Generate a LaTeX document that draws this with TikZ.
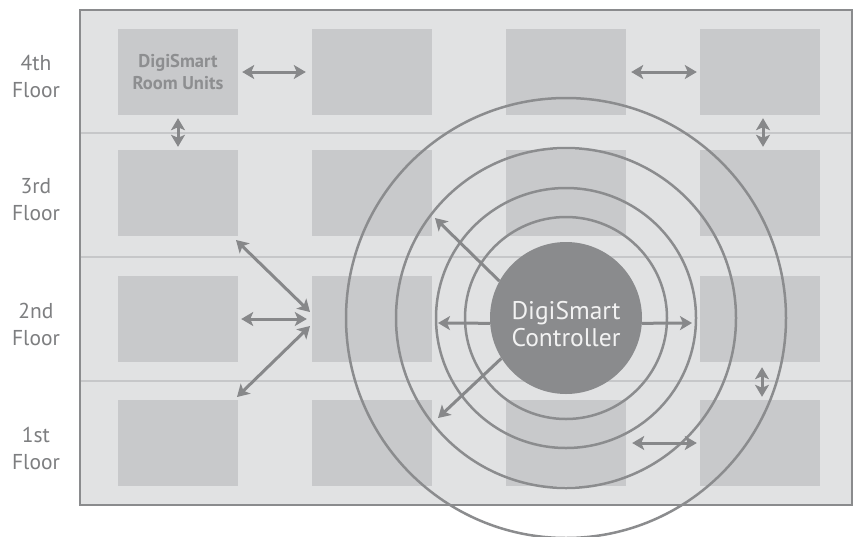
\documentclass[tikz,border=0pt]{standalone}
\usepackage{fontspec}
\setmainfont{PT Sans}
\usetikzlibrary{arrows.meta}
\definecolor{framefill}{HTML}{E1E2E3}
\definecolor{framecol}{HTML}{8A8B8D}
\definecolor{roomfill}{HTML}{C8C9CB}
\definecolor{divcol}{HTML}{C6C7C9}
\definecolor{ringcol}{HTML}{8B8C8E}
\definecolor{arrcol}{HTML}{87888A}
\definecolor{ctrlfill}{HTML}{8A8B8D}
\definecolor{ctrltext}{HTML}{F2F2F2}
\definecolor{lblcol}{HTML}{7D7E80}
\definecolor{unitcol}{HTML}{8D8E90}
\begin{document}
\begin{tikzpicture}[x=1pt,y=-1pt,
  room/.style={fill=roomfill, minimum width=120pt, minimum height=86pt, inner sep=0pt},
  ringline/.style={draw=ringcol, line width=2.5pt},
  divline/.style={draw=divcol, line width=2pt},
  link/.style={draw=arrcol, line width=3pt, {Stealth[length=12pt,width=14pt,inset=3pt]}-{Stealth[length=12pt,width=14pt,inset=3pt]}},
  ray/.style={draw=arrcol, line width=3pt, -{Stealth[length=12pt,width=14pt,inset=3pt]}},
  floorlbl/.style={text=lblcol, font=\fontsize{21.5}{27}\selectfont, align=center},
  ctrlstyle/.style={circle, fill=ctrlfill, minimum size=152pt, inner sep=0pt},
  ctrltxt/.style={text=ctrltext, align=center, font=\fontsize{25.5}{27}\selectfont, yshift=-6pt},
  unitlbl/.style={text=unitcol, align=center, font=\bfseries\fontsize{18.5}{22}\selectfont}]
\clip (0,0) rectangle (856,536);
\fill[white] (0,0) rectangle (856,536);
% building frame
\draw[fill=framefill, draw=framecol, line width=2.5pt] (80,10) rectangle (852,505);
\draw[divline] (81,133) -- (851,133);
\draw[divline] (81,257) -- (851,257);
\draw[divline] (81,381) -- (851,381);
% floor labels
\node[floorlbl] (f4) at (36,76) {4th\\Floor};
\node[floorlbl] (f3) at (36,200) {3rd\\Floor};
\node[floorlbl] (f2) at (36,324) {2nd\\Floor};
\node[floorlbl] (f1) at (36,448) {1st\\Floor};
% rooms
\node[room, unitlbl] (r41) at (178,72) {DigiSmart\\Room Units};
\node[room] (r42) at (372,72) {};
\node[room] (r43) at (566,72) {};
\node[room] (r44) at (760,72) {};
\node[room] (r31) at (178,193) {};
\node[room] (r32) at (372,193) {};
\node[room] (r33) at (566,193) {};
\node[room] (r34) at (760,193) {};
\node[room] (r21) at (178,319) {};
\node[room] (r22) at (372,319) {};
\node[room] (r23) at (566,319) {};
\node[room] (r24) at (760,319) {};
\node[room] (r11) at (178,443) {};
\node[room] (r12) at (372,443) {};
\node[room] (r13) at (566,443) {};
\node[room] (r14) at (760,443) {};
% rings
\coordinate (cc) at (566,318);
\draw[ringline] (cc) circle[radius=101pt];
\draw[ringline] (cc) circle[radius=130pt];
\draw[ringline] (cc) circle[radius=170pt];
\draw[ringline] (cc) circle[radius=220pt];
% room to room links
\draw[link, shorten <=4pt, shorten >=6pt] (r41) -- (r42);
\draw[link, shorten <=3pt, shorten >=3pt] (r41) -- (r31);
\draw[link, shorten <=5pt, shorten >=3pt] (r43) -- (r44);
\draw[link, shorten <=3pt, shorten >=3pt] ([xshift=3pt]r44.south) -- ([xshift=3pt]r34.north);
\draw[link, shorten <=5pt, shorten >=3pt] ([xshift=2pt]r24.south) -- ([xshift=2pt]r14.north);
\draw[link, shorten <=6pt, shorten >=3pt] (r13) -- (r14);
\draw[link, shorten <=3pt, shorten >=5pt] (r21) -- (r22);
\coordinate (hubU) at (310,312);
\coordinate (hubD) at (310,326);
\coordinate (endU) at (236,240);
\coordinate (endD) at (237,397);
\draw[link] (endU) -- (hubU);
\draw[link] (hubD) -- (endD);
% controller
\node[ctrlstyle, label={[ctrltxt]center:DigiSmart\\Controller}] (ctrl) at (cc) {};
\coordinate (tUL) at (435,218);
\coordinate (tL) at (438,323);
\coordinate (tR) at (692,323);
\coordinate (tDL) at (438,418);
\draw[ray] (ctrl.151) -- (tUL);
\draw[ray] (ctrl.184) -- (tL);
\draw[ray] (ctrl.356) -- (tR);
\draw[ray] (ctrl.212) -- (tDL);
\end{tikzpicture}
\end{document}
